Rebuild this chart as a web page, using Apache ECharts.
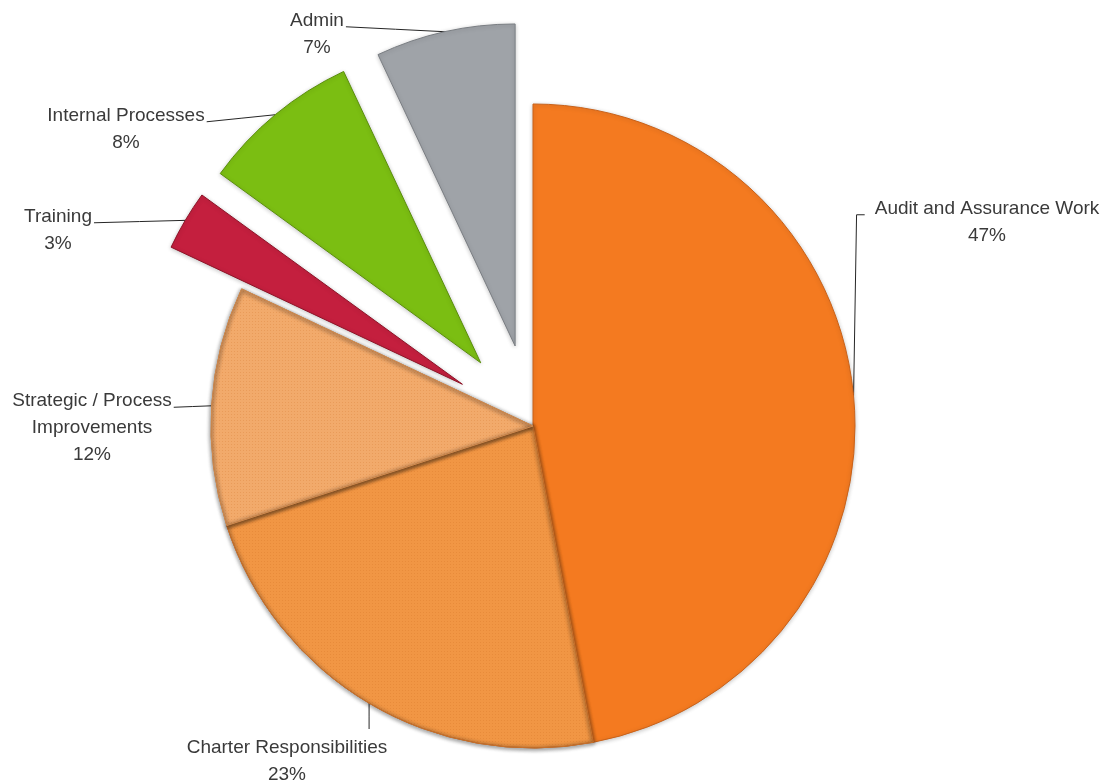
<!DOCTYPE html>
<html><head><meta charset="utf-8">
<script src="https://cdn.jsdelivr.net/npm/echarts@6/dist/echarts.min.js"></script>
<style>html,body{margin:0;padding:0;background:#fff}#c{width:1109px;height:783px}</style>
</head><body><div id="c"></div>
<script>
// ---- data ----
const categories = ['Audit and Assurance Work','Charter Responsibilities','Strategic / Process Improvements','Training','Internal Processes','Admin'];
const labelTexts = ['Audit and Assurance Work','Charter Responsibilities','Strategic / Process\nImprovements','Training','Internal Processes','Admin'];
const values = [47, 23, 12, 3, 8, 7];
const exploded = [false, false, false, true, true, true];

// ---- style ----
const colors = ['#F47A20', '#F79A46', '#F8AE6E', '#C41F3E', '#7BBE12', '#9FA3A8'];
const borders = ['#C9621A', '#C9702A', '#D08A4E', '#8E1428', '#5A8E0C', '#7A7E83'];
const textured = [false, true, true, false, false, false];
const CX = 533, CY = 426, R = 322, EXPLODE = 82;
const labelCenters = [[987, 222], [287, 761], [92, 428], [58, 230], [126, 129], [317, 34]];
const LH = 27, FS = 19;

const total = values.reduce((a, b) => a + b, 0);
const mids = [];
let acc = 0;
values.forEach(v => { mids.push((acc + v / 2) / total * 2 * Math.PI); acc += v; });
function centerFor(i) {
  if (!exploded[i]) return [CX, CY];
  return [CX + EXPLODE * Math.sin(mids[i]), CY - EXPLODE * Math.cos(mids[i])];
}

function labelLayout(p) {
  const i = p.dataIndex;
  const lx = labelCenters[i][0], ly = labelCenters[i][1];
  const w = p.labelRect.width, h = p.labelRect.height;
  const top = ly - h / 2;
  const base1 = top + LH / 2 + FS * 0.33;
  const c = centerFor(i), a = mids[i];
  const anchor = [c[0] + R * Math.sin(a), c[1] - R * Math.cos(a)];
  let pts;
  if (i === 0) {
    pts = [anchor, [anchor[0] + 3, base1], [lx - w / 2 - 10, base1]];
  } else if (i === 1) {
    pts = [anchor, [anchor[0], (anchor[1] + top - 5) / 2], [anchor[0], top - 5]];
  } else {
    const end = [lx + w / 2 + 2, base1];
    pts = [anchor, [(anchor[0] + end[0]) / 2, (anchor[1] + end[1]) / 2], end];
  }
  return { x: lx, y: ly, align: 'center', verticalAlign: 'middle', labelLinePoints: pts };
}

function makeSeries(visible) {
  const center = centerFor(visible[0]);
  return {
    type: 'pie', center: center, radius: R, startAngle: 90, clockwise: true,
    animation: false, silent: true, avoidLabelOverlap: false, minShowLabelAngle: 0,
    label: {
      show: true, fontFamily: 'Liberation Sans', fontSize: FS, lineHeight: LH, color: '#3a3a3a', align: 'center',
      formatter: p => labelTexts[p.dataIndex] + '\n' + values[p.dataIndex] + '%'
    },
    labelLine: { show: true, length: 10, length2: 10, lineStyle: { color: '#262626', width: 1 } },
    labelLayout: labelLayout,
    data: values.map((v, i) => {
      const vis = visible.includes(i);
      let style;
      if (vis) {
        style = {
          color: colors[i], borderColor: borders[i], borderWidth: 1,
          shadowBlur: 4, shadowColor: 'rgba(0,0,0,0.22)', shadowOffsetX: 0, shadowOffsetY: 1
        };
        if (textured[i]) {
          style.decal = { symbol: 'rect', symbolSize: 1, dashArrayX: [1, 2], dashArrayY: [1, 2], color: 'rgba(200,95,20,0.2)' };
        }
      } else {
        style = { color: 'rgba(0,0,0,0)', borderWidth: 0, shadowBlur: 0 };
      }
      return { name: categories[i], value: v, itemStyle: style, label: { show: vis }, labelLine: { show: vis } };
    })
  };
}

const mainIdx = values.map((v, i) => i).filter(i => !exploded[i]);
const series = [makeSeries(mainIdx)];
values.forEach((v, i) => { if (exploded[i]) series.push(makeSeries([i])); });

const chart = echarts.init(document.getElementById('c'), null, { renderer: 'canvas' });
chart.setOption({ backgroundColor: '#ffffff', animation: false, series: series });
</script>
</body></html>
